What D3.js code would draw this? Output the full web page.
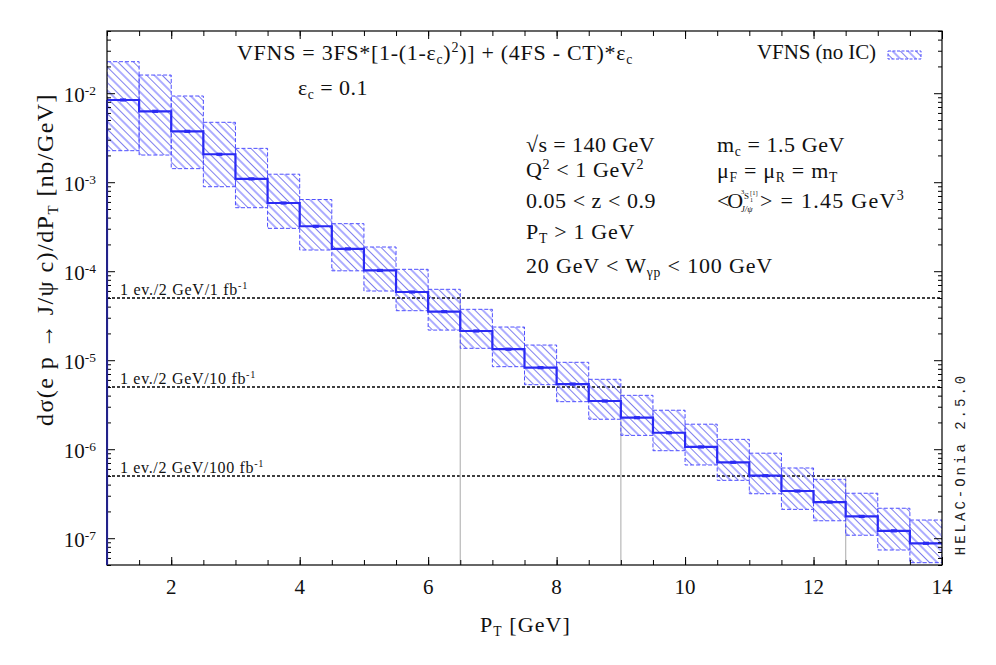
<!DOCTYPE html>
<html><head><meta charset="utf-8">
<script src="https://cdn.jsdelivr.net/npm/d3@7"></script>
<style>body{margin:0;background:#fff}svg{display:block}</style>
</head><body>
<svg id="c" width="996" height="665"></svg>
<script>
// ---------------- data ----------------
const ptLow  = [1.0,1.5,2.0,2.5,3.0,3.5,4.0,4.5,5.0,5.5,6.0,6.5,7.0,7.5,8.0,8.5,9.0,9.5,10.0,10.5,11.0,11.5,12.0,12.5,13.0,13.5];
const ptHigh = [1.5,2.0,2.5,3.0,3.5,4.0,4.5,5.0,5.5,6.0,6.5,7.0,7.5,8.0,8.5,9.0,9.5,10.0,10.5,11.0,11.5,12.0,12.5,13.0,13.5,14.0];
const central = [8.39e-3,6.26e-3,3.73e-3,2.06e-3,1.09e-3,5.84e-4,3.20e-4,1.78e-4,1.02e-4,5.84e-5,3.51e-5,2.13e-5,1.33e-5,
                 8.24e-6,5.40e-6,3.48e-6,2.26e-6,1.53e-6,1.06e-6,7.13e-7,5.04e-7,3.39e-7,2.55e-7,1.76e-7,1.21e-7,8.77e-8];
const upper   = [2.26e-2,1.60e-2,9.30e-3,4.71e-3,2.40e-3,1.23e-3,6.39e-4,3.42e-4,1.87e-4,1.05e-4,6.26e-5,3.73e-5,2.36e-5,
                 1.48e-5,9.47e-6,6.10e-6,4.03e-6,2.74e-6,1.91e-6,1.29e-6,9.02e-7,6.15e-7,4.59e-7,3.20e-7,2.17e-7,1.60e-7];
const lower   = [2.26e-3,2.02e-3,1.42e-3,8.90e-4,5.17e-4,3.03e-4,1.73e-4,1.01e-4,5.99e-5,3.60e-5,2.18e-5,1.36e-5,8.46e-6,
                 5.31e-6,3.42e-6,2.17e-6,1.43e-6,9.62e-7,6.65e-7,4.47e-7,3.16e-7,2.11e-7,1.57e-7,1.08e-7,7.37e-8,5.31e-8];
const thresholds    = [5e-5, 5e-6, 5e-7];
const thresholdLumi = ["1", "10", "100"];
const crossingPt    = [6.5, 9, 12.5];
const xMajorTicks = [2,4,6,8,10,12,14];
const xTickLabels = ["2","4","6","8","10","12","14"];
const yMajorTicks = [1e-7,1e-6,1e-5,1e-4,1e-3,1e-2];
const yTickExp    = ["-7","-6","-5","-4","-3","-2"];

// ---------------- layout ----------------
const svg = d3.select("#c");
const L=107, R=942, T=31, B=565;
const x = d3.scaleLinear().domain([1,14]).range([L,R]);
const y = d3.scaleLog().domain([5e-8,5e-2]).range([B,T]);
const SERIF = "'Liberation Serif','DejaVu Serif',serif";
const BLUE = "#2a2af4";
const BOXC = "#4f4fff";

// hatch pattern
const defs = svg.append("defs");
const pat = defs.append("pattern").attr("id","hatch").attr("patternUnits","userSpaceOnUse")
  .attr("width",11).attr("height",11).attr("patternTransform","rotate(-45)");
pat.append("line").attr("x1",1).attr("y1",0).attr("x2",1).attr("y2",11).attr("stroke","#8a8aff").attr("stroke-width",1.4);
pat.append("line").attr("x1",6.5).attr("y1",0).attr("x2",6.5).attr("y2",11).attr("stroke","#4848e6").attr("stroke-width",0.7);

const clip = defs.append("clipPath").attr("id","plotclip");
clip.append("rect").attr("x",L).attr("y",T).attr("width",R-L).attr("height",B-T);

const bins = ptLow.map((lo,i)=>({lo, hi:ptHigh[i], c:central[i], u:upper[i], d:lower[i]}));

const gp = svg.append("g").attr("clip-path","url(#plotclip)");

// threshold lines
gp.selectAll("line.thr").data(thresholds).join("line").attr("class","thr")
  .attr("x1",x(1)).attr("x2",x(14)).attr("y1",d=>y(d)).attr("y2",d=>y(d))
  .attr("stroke","#000").attr("stroke-width",1.3).attr("stroke-dasharray","3,2");

// grey verticals
gp.selectAll("line.vg").data(crossingPt).join("line").attr("class","vg")
  .attr("x1",d=>x(d)).attr("x2",d=>x(d)).attr("y1",(d,i)=>y(thresholds[i])).attr("y2",B)
  .attr("stroke","#bdbdbd").attr("stroke-width",1.3);

// band boxes
gp.selectAll("rect.box").data(bins).join("rect").attr("class","box")
  .attr("x",d=>x(d.lo)).attr("width",d=>x(d.hi)-x(d.lo))
  .attr("y",d=>y(d.u)).attr("height",d=>y(d.d)-y(d.u))
  .attr("fill","url(#hatch)").attr("stroke",BOXC).attr("stroke-width",1).attr("stroke-dasharray","4,2");

// step line
const pts = [[ptLow[0], 5e-8]];
bins.forEach(b=>{pts.push([b.lo,b.c]); pts.push([b.hi,b.c]);});
gp.append("path").attr("d", d3.line().x(d=>x(d[0])).y(d=>y(d[1]))(pts))
  .attr("fill","none").attr("stroke",BLUE).attr("stroke-width",2.2);

// central markers
gp.selectAll("rect.mk").data(bins).join("rect").attr("class","mk")
  .attr("x",d=>x((d.lo+d.hi)/2)-3).attr("width",6)
  .attr("y",d=>y(d.c)-1.6).attr("height",3.2).attr("fill",BLUE);

// ---------------- axes ----------------
const xMinor = d3.range(1,14.01,0.5);
const yMinor = [];
[-8,-7,-6,-5,-4,-3,-2].forEach(e=>{for(let k=2;k<=9;k++){const v=k*Math.pow(10,e); if(v>=5e-8 && v<=5e-2) yMinor.push(v);}});

function styleAxis(g){ g.select(".domain").remove(); g.selectAll("line").attr("stroke","#000").attr("stroke-width",1); g.selectAll("text").remove(); }
svg.append("g").attr("transform",`translate(0,${B})`).call(d3.axisBottom(x).tickValues(xMinor).tickSize(-5)).call(styleAxis);
svg.append("g").attr("transform",`translate(0,${B})`).call(d3.axisBottom(x).tickValues(xMajorTicks).tickSize(-8)).call(styleAxis);
svg.append("g").attr("transform",`translate(0,${T})`).call(d3.axisTop(x).tickValues(xMinor).tickSize(-5)).call(styleAxis);
svg.append("g").attr("transform",`translate(0,${T})`).call(d3.axisTop(x).tickValues(xMajorTicks).tickSize(-8)).call(styleAxis);
svg.append("g").attr("transform",`translate(${L},0)`).call(d3.axisLeft(y).tickValues(yMinor).tickSize(-4)).call(styleAxis);
svg.append("g").attr("transform",`translate(${L},0)`).call(d3.axisLeft(y).tickValues(yMajorTicks).tickSize(-8)).call(styleAxis);
svg.append("g").attr("transform",`translate(${R},0)`).call(d3.axisRight(y).tickValues(yMinor).tickSize(-4)).call(styleAxis);
svg.append("g").attr("transform",`translate(${R},0)`).call(d3.axisRight(y).tickValues(yMajorTicks).tickSize(-8)).call(styleAxis);

svg.append("rect").attr("x",L).attr("y",T).attr("width",R-L).attr("height",B-T)
  .attr("fill","none").attr("stroke","#000").attr("stroke-width",1.2);
svg.append("line").attr("x1",x(1)).attr("x2",x(1)).attr("y1",B).attr("y2",y(central[0]))
  .attr("stroke","#22228a").attr("stroke-width",2);

// rich text helper
function rich(parent, xx, yy, parts, fs, anchor){
  const t = parent.append("text").attr("x",xx).attr("y",yy).attr("font-family",SERIF)
     .attr("font-size",fs).attr("fill","#111").attr("text-anchor",anchor||"start");
  let cur = 0;
  parts.forEach(([s,k])=>{
    let target = 0, size = fs;
    if(k==="sub"){target = 0.2*fs; size = fs*0.62;}
    if(k==="sup"){target = -0.36*fs; size = fs*0.64;}
    t.append("tspan").attr("dy", target-cur).attr("font-size",size).text(s);
    cur = target;
  });
  return t;
}
// stretch a text to a target width via letter-spacing
function fit(t, target){
  const w = t.node().getComputedTextLength();
  const n = t.text().length;
  t.attr("letter-spacing", ((target - w)/n).toFixed(3));
  return t;
}

// x tick labels
svg.selectAll("text.xt").data(xMajorTicks).join("text").attr("class","xt")
  .attr("x",d=>x(d)).attr("y",B+29).attr("text-anchor","middle")
  .attr("font-family",SERIF).attr("font-size",21).attr("fill","#111").text((d,i)=>xTickLabels[i]);
// y tick labels
yMajorTicks.forEach((v,i)=>{
  rich(svg, L-11, y(v)+9, [["10","n"],[yTickExp[i],"sup"]], 21, "end");
});

// axis titles
fit(rich(svg, 480, 632, [["P","n"],["T","sub"],[" [GeV]","n"]], 22), 91);
const yt = svg.append("g").attr("transform",`translate(53,426) rotate(-90)`);
fit(rich(yt, 0, 0, [["dσ(e p → J/ψ c)/dP","n"],["T","sub"],[" [nb/GeV]","n"]], 24), 333);

// annotations
const AF = 22;
fit(rich(svg, 237, 60, [["VFNS = 3FS*[1-(1-ε","n"],["c","sub"],[")","n"],["2","sup"],[")] + (4FS - CT)*ε","n"],["c","sub"]], AF), 396);
fit(rich(svg, 298, 95, [["ε","n"],["c","sub"],[" = 0.1","n"]], AF), 70);

fit(rich(svg, 526, 152, [["√s = 140 GeV","n"]], AF), 129);
fit(rich(svg, 526, 177, [["Q","n"],["2","sup"],[" < 1 GeV","n"],["2","sup"]], AF), 118);
fit(rich(svg, 526, 208, [["0.05 < z < 0.9","n"]], AF), 130);
fit(rich(svg, 526, 239, [["P","n"],["T","sub"],[" > 1 GeV","n"]], AF), 109);
fit(rich(svg, 526, 273, [["20 GeV < W","n"],["γp","sub"],[" < 100 GeV","n"]], AF), 247);

fit(rich(svg, 717, 152, [["m","n"],["c","sub"],[" = 1.5 GeV","n"]], AF), 128);
fit(rich(svg, 717, 178, [["μ","n"],["F","sub"],[" = μ","n"],["R","sub"],[" = m","n"],["T","sub"]], AF), 121);
// <O^{3S1[1]}_{J/psi}> = 1.45 GeV^3
fit(rich(svg, 717, 208, [["<O","n"]], AF), 24);
const ox = 741;
const sm = (xx,yy,s,fs)=>svg.append("text").attr("x",xx).attr("y",yy).attr("font-family",SERIF).attr("font-size",fs).attr("fill","#111").text(s);
sm(ox, 208-14, "3", 6.5);
sm(ox+3, 208-9, "S", 9);
sm(ox+9, 208-13, "[1]", 6.5);
sm(ox+9, 208-6.5, "1", 6);
sm(ox, 208+4, "J/ψ", 8.5).attr("font-style","italic");
fit(rich(svg, 760, 208, [["> = 1.45 GeV","n"],["3","sup"]], AF), 145);

// legend
fit(rich(svg, 757, 59, [["VFNS (no IC)","n"]], 21), 119);
svg.append("rect").attr("x",888).attr("y",51).attr("width",33).attr("height",8)
  .attr("fill","url(#hatch)").attr("stroke",BOXC).attr("stroke-width",1).attr("stroke-dasharray","3,1.5");

// threshold labels
const thrW = [128, 136, 144];
thresholds.forEach((t,i)=>{
  fit(rich(svg, 120, y(t)-3.5, [["1 ev./2 GeV/"+thresholdLumi[i]+" fb","n"],["-1","sup"]], 16), thrW[i]);
});

// program tag
svg.append("text").attr("transform","translate(965,464) rotate(-90)").attr("text-anchor","middle")
  .attr("font-family","'Liberation Mono','DejaVu Sans Mono',monospace").attr("font-size",14)
  .attr("letter-spacing",3).attr("fill","#222").text("HELAC-Onia 2.5.0");
</script>
</body></html>
